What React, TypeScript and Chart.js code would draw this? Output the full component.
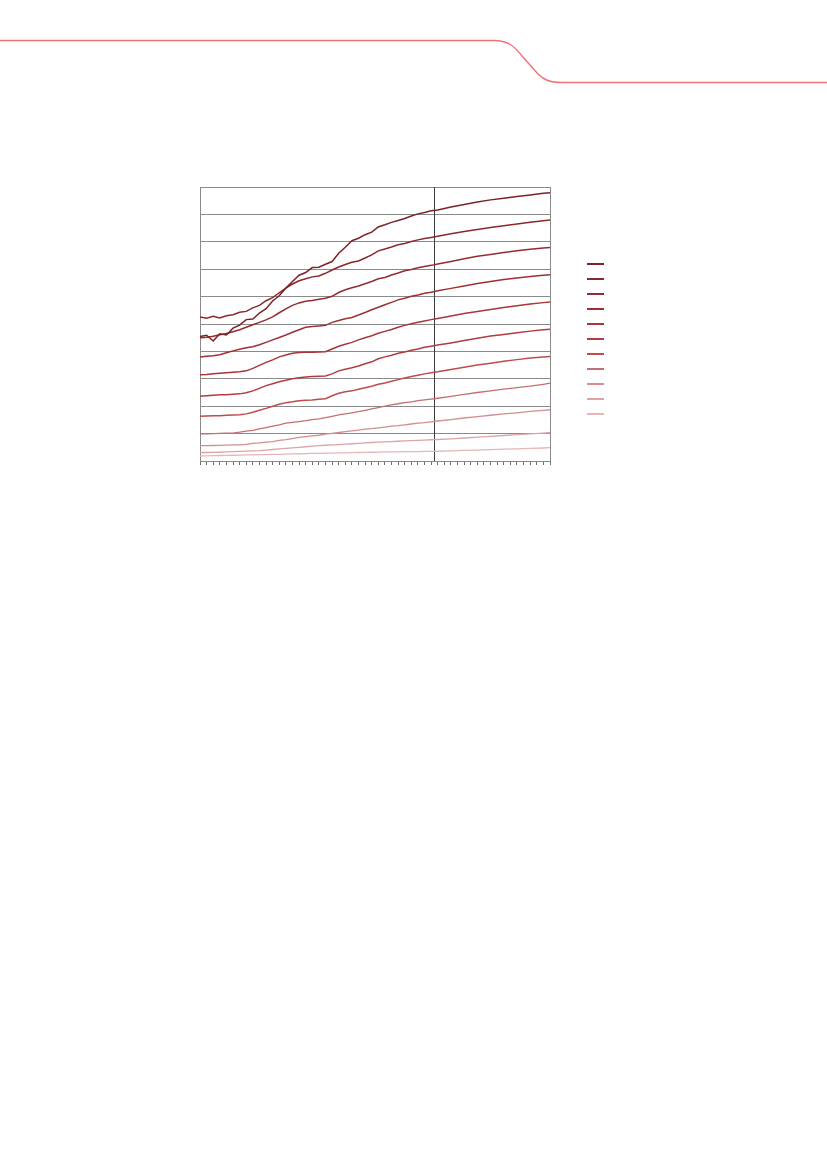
import React, { useEffect, useRef } from 'react';
import { Chart, registerables } from 'chart.js';

Chart.register(...registerables);

// x positions (one tick per unit, 0..53)
const xValues = [
  0, 1, 2, 3, 4, 5, 6, 7, 8, 9, 10, 11, 12, 13, 14, 15, 16, 17, 18, 19,
  20, 21, 22, 23, 24, 25, 26, 27, 28, 29, 30, 31, 32, 33, 34, 35, 36,
  38, 40, 42, 44, 46, 48, 50, 52, 53,
];

const projectionStart = 35.5;

const series1 = [45.4, 45.9, 43.8, 46.4, 46.0, 48.5, 49.6, 51.6, 51.8, 54.0, 55.6, 58.4, 60.3, 63.1, 65.5, 67.8, 68.8, 70.6, 70.7, 71.8, 72.8, 75.8, 78.0, 80.4, 81.3, 82.6, 83.5, 85.4, 86.2, 87.1, 87.8, 88.5, 89.4, 90.2, 90.7, 91.3, 91.6, 92.7, 93.6, 94.5, 95.3, 95.9, 96.5, 97.1, 97.7, 97.9];
const series2 = [52.6, 52.1, 52.8, 52.2, 53.0, 53.4, 54.3, 54.6, 55.9, 56.8, 58.5, 59.6, 61.4, 63.1, 64.6, 65.8, 66.5, 67.2, 67.5, 68.5, 69.7, 70.8, 71.7, 72.5, 73.0, 74.1, 75.2, 76.7, 77.4, 78.1, 78.9, 79.4, 80.1, 80.7, 81.2, 81.6, 82.0, 82.9, 83.8, 84.5, 85.2, 85.9, 86.5, 87.1, 87.7, 88.0];
const series3 = [45.0, 45.2, 45.5, 46.1, 46.5, 47.2, 47.9, 48.8, 49.7, 50.6, 51.5, 52.6, 54.1, 55.5, 56.8, 57.7, 58.3, 58.6, 59.0, 59.4, 60.1, 61.5, 62.5, 63.2, 63.9, 64.7, 65.5, 66.5, 67.0, 67.9, 68.6, 69.4, 69.9, 70.5, 71.0, 71.4, 71.9, 72.8, 73.8, 74.7, 75.4, 76.1, 76.7, 77.3, 77.7, 77.9];
const series4 = [38.0, 38.2, 38.4, 38.8, 39.5, 40.2, 40.8, 41.3, 41.7, 42.4, 43.3, 44.2, 45.1, 46.0, 47.0, 47.9, 48.8, 49.1, 49.3, 49.5, 50.6, 51.3, 51.9, 52.4, 53.3, 54.2, 55.2, 56.1, 57.0, 57.9, 58.8, 59.4, 60.1, 60.6, 61.2, 61.6, 62.1, 63.0, 63.9, 64.8, 65.5, 66.2, 66.8, 67.3, 67.8, 68.0];
const series5 = [31.5, 31.6, 31.8, 32.0, 32.2, 32.4, 32.6, 32.9, 33.8, 34.9, 36.0, 36.9, 38.0, 38.7, 39.3, 39.6, 39.7, 39.7, 39.8, 39.9, 40.9, 41.9, 42.6, 43.3, 44.2, 45.0, 45.7, 46.6, 47.3, 48.0, 48.8, 49.5, 50.1, 50.6, 51.1, 51.6, 52.0, 52.9, 53.8, 54.6, 55.3, 56.0, 56.7, 57.3, 57.8, 58.0];
const series6 = [23.6, 23.8, 24.0, 24.2, 24.2, 24.4, 24.5, 24.9, 25.6, 26.5, 27.5, 28.2, 28.9, 29.5, 30.0, 30.4, 30.7, 30.8, 30.9, 31.0, 31.8, 32.9, 33.5, 34.0, 34.7, 35.5, 36.2, 37.3, 38.0, 38.6, 39.3, 39.8, 40.4, 40.9, 41.5, 41.9, 42.3, 43.1, 44.0, 44.8, 45.6, 46.2, 46.8, 47.4, 47.9, 48.1];
const series7 = [16.3, 16.4, 16.5, 16.5, 16.7, 16.8, 16.9, 17.2, 17.8, 18.5, 19.2, 20.0, 20.7, 21.3, 21.6, 22.0, 22.2, 22.3, 22.5, 22.7, 23.8, 24.7, 25.3, 25.6, 26.2, 26.7, 27.3, 28.0, 28.5, 29.1, 29.7, 30.3, 30.8, 31.3, 31.8, 32.2, 32.6, 33.4, 34.2, 35.0, 35.7, 36.4, 37.0, 37.6, 38.0, 38.1];
const series8 = [9.95, 9.95, 10.0, 10.1, 10.2, 10.2, 10.5, 10.9, 11.2, 11.7, 12.2, 12.7, 13.2, 13.8, 14.1, 14.4, 14.7, 15.1, 15.4, 15.8, 16.3, 16.8, 17.2, 17.6, 18.0, 18.5, 19.0, 19.5, 20.0, 20.5, 20.9, 21.3, 21.6, 22.0, 22.3, 22.6, 22.9, 23.6, 24.3, 25.0, 25.6, 26.2, 26.8, 27.3, 28.0, 28.4];
const series9 = [5.6, 5.6, 5.65, 5.7, 5.8, 5.9, 5.9, 6.1, 6.4, 6.6, 6.9, 7.1, 7.5, 7.8, 8.2, 8.6, 8.9, 9.2, 9.4, 9.8, 10.1, 10.4, 10.7, 11.0, 11.3, 11.6, 11.8, 12.1, 12.4, 12.7, 12.9, 13.2, 13.5, 13.8, 14.0, 14.3, 14.6, 15.1, 15.7, 16.2, 16.7, 17.2, 17.6, 18.1, 18.5, 18.7];
const series10 = [3.1, 3.1, 3.15, 3.2, 3.3, 3.4, 3.5, 3.6, 3.7, 3.8, 4.0, 4.2, 4.4, 4.6, 4.8, 5.0, 5.2, 5.4, 5.6, 5.75, 5.9, 6.0, 6.15, 6.3, 6.45, 6.6, 6.75, 6.9, 7.0, 7.1, 7.2, 7.35, 7.45, 7.55, 7.65, 7.75, 7.85, 8.1, 8.4, 8.7, 9.0, 9.3, 9.6, 9.9, 10.2, 10.4];
const series11 = [1.9, 1.9, 1.95, 2.0, 2.05, 2.1, 2.15, 2.2, 2.25, 2.3, 2.35, 2.4, 2.45, 2.5, 2.6, 2.65, 2.7, 2.75, 2.8, 2.85, 2.9, 2.95, 3.0, 3.05, 3.1, 3.15, 3.2, 3.25, 3.3, 3.3, 3.35, 3.4, 3.4, 3.45, 3.5, 3.5, 3.55, 3.7, 3.85, 4.0, 4.15, 4.3, 4.45, 4.6, 4.75, 4.85];

const allSeries = [series1, series2, series3, series4, series5, series6, series7, series8, series9, series10, series11];

// dark red -> pale pink, same order as the legend
const seriesColors = [
  '#7d2226', '#8b282b', '#942c2f', '#9e3033', '#a83539', '#b13c3f',
  '#bf4b4c', '#c46f70', '#d18f8f', '#dba5a5', '#e5b7b7',
];

const gridGray = '#8a8a8a';

// vertical marker where the projection starts
const projectionLine = {
  id: 'projectionLine',
  beforeDatasetsDraw(chart: any) {
    const { ctx, chartArea, scales } = chart;
    const x = Math.round(scales.x.getPixelForValue(projectionStart)) + 0.5;
    ctx.save();
    ctx.strokeStyle = '#3c3c3c';
    ctx.lineWidth = 1;
    ctx.beginPath();
    ctx.moveTo(x, chartArea.top);
    ctx.lineTo(x, chartArea.bottom);
    ctx.stroke();
    ctx.restore();
  },
};

const LineChart = () => {
  const canvasRef = useRef<HTMLCanvasElement>(null);
  const chartRef = useRef<Chart | null>(null);

  useEffect(() => {
    if (!canvasRef.current) return;
    const ctx = canvasRef.current.getContext('2d');
    if (!ctx) return;

    if (chartRef.current) chartRef.current.destroy();

    chartRef.current = new Chart(ctx, {
      type: 'line',
      data: {
        datasets: allSeries.map((values, i) => ({
          data: values.map((v, j) => ({ x: xValues[j], y: v })),
          borderColor: seriesColors[i],
          borderWidth: i < 7 ? 1.5 : 1.3,
          pointRadius: 0,
          tension: 0,
          fill: false,
        })),
      },
      options: {
        animation: false,
        responsive: true,
        maintainAspectRatio: false,
        layout: { padding: { left: 10, right: 10, top: 7, bottom: 0 } },
        plugins: {
          legend: { display: false },
          tooltip: { enabled: false },
        },
        scales: {
          x: {
            type: 'linear',
            min: 0,
            max: 53,
            ticks: { display: false, stepSize: 1, autoSkip: false },
            grid: {
              drawOnChartArea: false,
              drawTicks: true,
              tickLength: 4,
              color: '#707070',
            },
            border: { display: true, color: gridGray, width: 1 },
            afterFit: (scale: any) => {
              scale.height = 14;
            },
          },
          y: {
            min: 0,
            max: 100,
            ticks: { display: false, stepSize: 10 },
            grid: { color: gridGray, lineWidth: 1, drawTicks: false },
            border: { display: true, color: gridGray, width: 1 },
            afterFit: (scale: any) => {
              scale.width = 0;
            },
          },
          y2: {
            position: 'right',
            min: 0,
            max: 100,
            ticks: { display: false },
            grid: { drawOnChartArea: false, drawTicks: false },
            border: { display: true, color: gridGray, width: 1 },
            afterFit: (scale: any) => {
              scale.width = 0;
            },
          },
        },
      },
      plugins: [projectionLine],
    });

    return () => {
      if (chartRef.current) {
        chartRef.current.destroy();
        chartRef.current = null;
      }
    };
  }, []);

  return (
    <div style={{ position: 'absolute', left: 190, top: 180, width: 370, height: 295 }}>
      <canvas ref={canvasRef} />
    </div>
  );
};

// swatch-only legend, as in the source page
const Legend = () => (
  <div style={{ position: 'absolute', left: 587, top: 263 }}>
    {seriesColors.map((c, i) => (
      <div
        key={i}
        style={{ width: 17, height: 2, backgroundColor: c, marginBottom: 13 }}
      />
    ))}
  </div>
);

const HeaderRule = () => (
  <svg
    width={827}
    height={100}
    style={{ position: 'absolute', left: 0, top: 0 }}
  >
    <path
      d="M0 40.5 H494 C508 40.5 514 46 522 56 L538 74 C544 80 550 82.5 562 82.5 H827"
      fill="none"
      stroke="#ef7276"
      strokeWidth={1.4}
    />
  </svg>
);

export default function App() {
  // absolute at the page origin so the body margin does not shift anything
  return (
    <div style={{ position: 'absolute', left: 0, top: 0, width: 827, height: 1170, background: '#fff', overflow: 'hidden' }}>
      <HeaderRule />
      <LineChart />
      <Legend />
    </div>
  );
}
